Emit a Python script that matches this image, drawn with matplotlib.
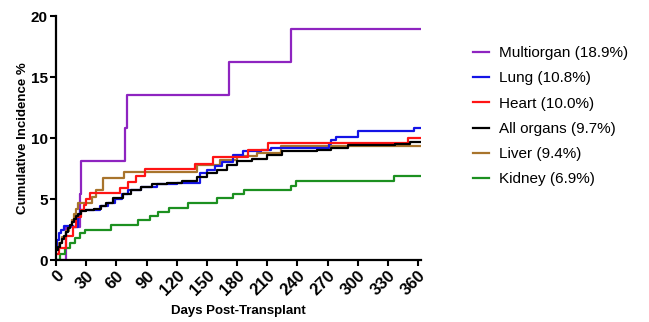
# =============================================================================
# Cumulative incidence by organ type, days post-transplant
# =============================================================================
import matplotlib
matplotlib.use("Agg")
import matplotlib.pyplot as plt

# =============================================================================
# Data
# =============================================================================
multiDays = [0, 10, 24, 25, 69, 71, 172, 234, 363]
multiVals = [0, 2.7, 5.4, 8.1, 10.8, 13.5, 16.2, 18.9, 18.9]

kidneyDays = [0, 4, 9, 14, 19, 24, 29, 55, 82, 93, 101, 112, 131, 160, 176, 187,
              234, 239, 336, 363]
kidneyVals = [0, 0.5, 0.96, 1.37, 1.78, 2.19, 2.5, 2.87, 3.28, 3.6, 3.96, 4.3, 4.7,
              5.05, 5.4, 5.7, 6.06, 6.5, 6.85, 6.85]

liverDays = [0, 3, 6, 10, 13, 16, 18, 20, 22, 36, 40, 47, 68, 140, 163, 180, 200,
             224, 363]
liverVals = [0.9, 1.4, 1.9, 2.4, 2.8, 3.3, 3.8, 4.2, 4.7, 5.2, 5.7, 6.7, 7.24, 7.8,
             8.2, 8.5, 8.8, 9.37, 9.37]

lungDays = [0, 1, 3, 5, 8, 17, 22, 24, 44, 52, 59, 66, 72, 85, 100, 120, 143, 150,
            158, 165, 176, 186, 204, 214, 271, 273, 278, 300, 356, 363]
lungVals = [1.0, 1.6, 2.2, 2.5, 2.8, 2.7, 3.5, 4.1, 4.4, 4.7, 5.0, 5.4, 5.7, 6.0, 6.2,
            6.3, 7.1, 7.4, 7.7, 8.0, 8.6, 8.9, 9.0, 9.15, 9.5, 9.8, 10.05, 10.57,
            10.84, 10.84]

heartDays = [0, 3, 10, 17, 20, 25, 28, 30, 34, 64, 72, 80, 88, 138, 156, 191, 211,
             350, 363]
heartVals = [0.5, 1.0, 2.0, 2.7, 3.5, 4.1, 4.5, 5.0, 5.5, 5.9, 6.4, 6.9, 7.43, 7.9,
             8.47, 9.0, 9.56, 10.0, 10.0]

allDays = [0, 2, 4, 6, 8, 10, 12, 14, 16, 18, 20, 22, 25, 30, 38, 45, 50, 57, 67, 75,
           85, 95, 110, 125, 140, 150, 160, 170, 180, 195, 210, 225, 260, 273, 290,
           337, 352, 363]
allVals = [0.8, 1.1, 1.4, 1.7, 2.0, 2.3, 2.6, 2.9, 3.1, 3.4, 3.6, 3.8, 4.0, 4.1, 4.2,
           4.4, 4.7, 5.1, 5.4, 5.7, 6.0, 6.2, 6.3, 6.5, 6.8, 7.1, 7.4, 7.8, 8.1, 8.3,
           8.6, 8.9, 9.0, 9.2, 9.4, 9.5, 9.7, 9.7]

xTicks = list(range(0, 361, 30))
yTicks = [0, 5, 10, 15, 20]

# draw order: first drawn sits at the bottom
series = [
    (multiDays, multiVals, "#8e24c0", "Multiorgan (18.9%)"),
    (kidneyDays, kidneyVals, "#1c9020", "Kidney (6.9%)"),
    (liverDays, liverVals, "#a8742c", "Liver (9.4%)"),
    (lungDays, lungVals, "#1414e6", "Lung (10.8%)"),
    (heartDays, heartVals, "#ff1414", "Heart (10.0%)"),
    (allDays, allVals, "#000000", "All organs (9.7%)"),
]
legendOrder = ["Multiorgan (18.9%)", "Lung (10.8%)", "Heart (10.0%)",
               "All organs (9.7%)", "Liver (9.4%)", "Kidney (6.9%)"]

# =============================================================================
# Plot
# =============================================================================
plt.rcParams['font.family'] = ['Liberation Sans', 'DejaVu Sans']

fig = plt.figure(figsize=(6.49, 3.22), dpi=100)
ax = fig.add_axes([0.0863, 0.1925, 0.5625, 0.7578])

handles = {}
for days, vals, col, lab in series:
    line, = ax.step(days, vals, where='post', color=col, lw=1.6, label=lab)
    handles[lab] = line

ax.set_xlim(0, 363)
ax.set_ylim(0, 20)
ax.set_xticks(xTicks)
ax.set_yticks(yTicks)
ax.set_xticklabels([str(t) for t in xTicks], rotation=45, ha='right',
                   rotation_mode='anchor', fontsize=12, fontweight='bold')
ax.set_yticklabels([str(t) for t in yTicks], fontsize=11, fontweight='bold')
ax.tick_params(axis='both', direction='out', length=4, width=1.5, pad=2)

for side in ['top', 'right']:
    ax.spines[side].set_visible(False)
for side in ['left', 'bottom']:
    ax.spines[side].set_linewidth(1.6)

ax.set_xlabel("Days Post-Transplant", fontsize=9.5, fontweight='bold', labelpad=5)
ax.set_ylabel("Cumulative Incidence %", fontsize=9.5, fontweight='bold', labelpad=1.5)

fig.legend([handles[l] for l in legendOrder], legendOrder, loc='upper left',
           bbox_to_anchor=(0.707, 0.9), frameon=False, fontsize=11,
           handlelength=1.1, handletextpad=0.6, labelspacing=0.74)

fig.savefig("out.png", dpi=100)
